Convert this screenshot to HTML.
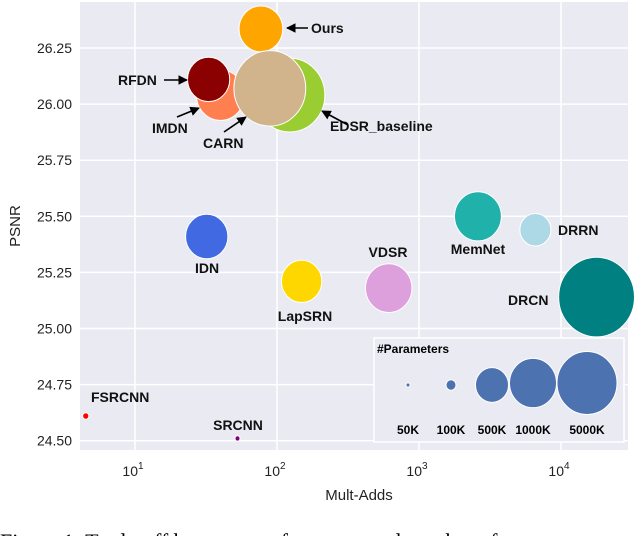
<!DOCTYPE html>
<html><head><meta charset="utf-8"><style>
body{margin:0;background:#fff;width:640px;height:536px;overflow:hidden}
svg text{font-family:"Liberation Sans",sans-serif}
svg text.serif{font-family:"Liberation Serif",serif}
</style></head><body>
<svg id="chart" width="640" height="536" viewBox="0 0 640 536" xmlns="http://www.w3.org/2000/svg">
<defs><marker id="ah" viewBox="0 0 10 10" refX="9" refY="5" markerWidth="6" markerHeight="6" orient="auto"><path d="M0,0 L10,5 L0,10 z" fill="#000"/></marker></defs>
<rect x="80" y="2" width="548" height="448" fill="#EAEAF2"/>
<g id="grid"></g><g id="ticks"></g><g id="bubbles"></g><g id="labels"></g>
<text transform="translate(20,226) rotate(-90)" text-anchor="middle" font-size="15" fill="#222">PSNR</text>
<text x="359" y="500" text-anchor="middle" font-size="15" fill="#222">Mult-Adds</text>
<rect x="374" y="338" width="250" height="104" fill="#EAEAF2" stroke="#fff" stroke-width="1.5"/>
<text x="377" y="353" font-size="12" font-weight="bold">#Parameters</text>
<g id="legend"></g>
<text class="serif" x="0" y="549" font-size="22" fill="#000">Figure 1:  Trade-off between performance and number of</text>
</svg>
<script>
const names=["Ours","RFDN","IMDN","EDSR_baseline","CARN","IDN","MemNet","DRRN","LapSRN","VDSR","DRCN","FSRCNN","SRCNN"];
const multAdds=[77,33,40,123,89,32,2600,6600,149,612,17800,4.5,52.7];
const psnr=[26.335,26.11,26.04,26.04,26.07,25.41,25.50,25.44,25.21,25.18,25.14,24.61,24.51];
const params=[590,550,715,1518,1592,553,677,297,502,665,1774,12,8];
const colors=["#FFA500","#8B0000","#FF7F50","#9ACD32","#D2B48C","#4169E1","#20B2AA","#ADD8E6","#FFD700","#DDA0DD","#008080","#FF0000","#800080"];
const drawOrder=[0,2,1,3,4,5,6,7,8,9,10,11,12];
const xTicks=[1,2,3,4];
const yTicks=[24.5,24.75,25.0,25.25,25.5,25.75,26.0,26.25];
const legendLabels=["50K","100K","500K","1000K","5000K"];
const legendSizes=[2,5,16.5,23.5,30];
const NS="http://www.w3.org/2000/svg";
const X=v=>135+(Math.log10(v)-1)*142;
const Y=p=>48+(26.25-p)/0.25*56.1;
const R=k=>0.9*Math.sqrt(k);
function mk(t,a,p){const e=document.createElementNS(NS,t);for(const k in a)e.setAttribute(k,a[k]);p.appendChild(e);return e;}
const g=document.getElementById('grid'),tk=document.getElementById('ticks');
xTicks.forEach(t=>{const x=X(Math.pow(10,t));
const l=mk('line',{x1:x,x2:x,y1:2,y2:450,stroke:'#fff','stroke-width':1.5},g);


const tx=mk('text',{x:x-2,y:476,'text-anchor':'middle','font-size':14,fill:'#222'},tk);


tx.textContent='10';
const s=mk('tspan',{dy:-7,'font-size':10},tx);s.textContent=t;});
yTicks.forEach(t=>{const y=Y(t);
const l=mk('line',{x1:80,x2:628,y1:y,y2:y,stroke:'#fff','stroke-width':1.5},g);


const tx=mk('text',{x:72,y:y+5,'text-anchor':'end','font-size':14,fill:'#222'},tk);


tx.textContent=t.toFixed(2);});
const b=document.getElementById('bubbles');
drawOrder.forEach(i=>{const c=mk('ellipse',{cx:X(multAdds[i]),cy:Y(psnr[i]),rx:R(params[i]),ry:R(params[i])*1.05,fill:colors[i],stroke:'#fff','stroke-width':1},b);

});
const lb=document.getElementById('labels');
const labelPos={"Ours":[311,33,'start',[308,28,287,28]],"RFDN":[118,85,'start',[164,80,187,80]],"IMDN":[152,133,'start',[177,117,199,108]],"CARN":[203,148,'start',[224,132,246,117]],"EDSR_baseline":[330,131,'start',[348,125,322,111]],"IDN":[207,273,'middle'],"MemNet":[478,254,'middle'],"DRRN":[558,235,'start'],"VDSR":[388,257,'middle'],"LapSRN":[305,321,'middle'],"DRCN":[508,305,'start'],"FSRCNN":[91,402,'start'],"SRCNN":[238,430,'middle']};
names.forEach(n=>{const p=labelPos[n];
const t=mk('text',{x:p[0],y:p[1],'text-anchor':p[2],'font-size':14,'font-weight':'bold',fill:'#111'},lb);


t.textContent=n;
if(p[3]){const a=mk('line',{x1:p[3][0],y1:p[3][1],x2:p[3][2],y2:p[3][3],stroke:'#000','stroke-width':1.6,'marker-end':'url(#ah)'},lb);

}});
const lg=document.getElementById('legend');
const lx=[408,451,492,533,587];
legendLabels.forEach((s,i)=>{const c=mk('ellipse',{cx:lx[i],cy:385-(legendSizes[i]>20?2:0),rx:legendSizes[i],ry:legendSizes[i]*1.05,fill:'#4C72B0',stroke:'#fff','stroke-width':1},lg);


const t=mk('text',{x:lx[i],y:434,'text-anchor':'middle','font-size':12,'font-weight':'bold'},lg);


t.textContent=s;});
</script>
</body></html>
